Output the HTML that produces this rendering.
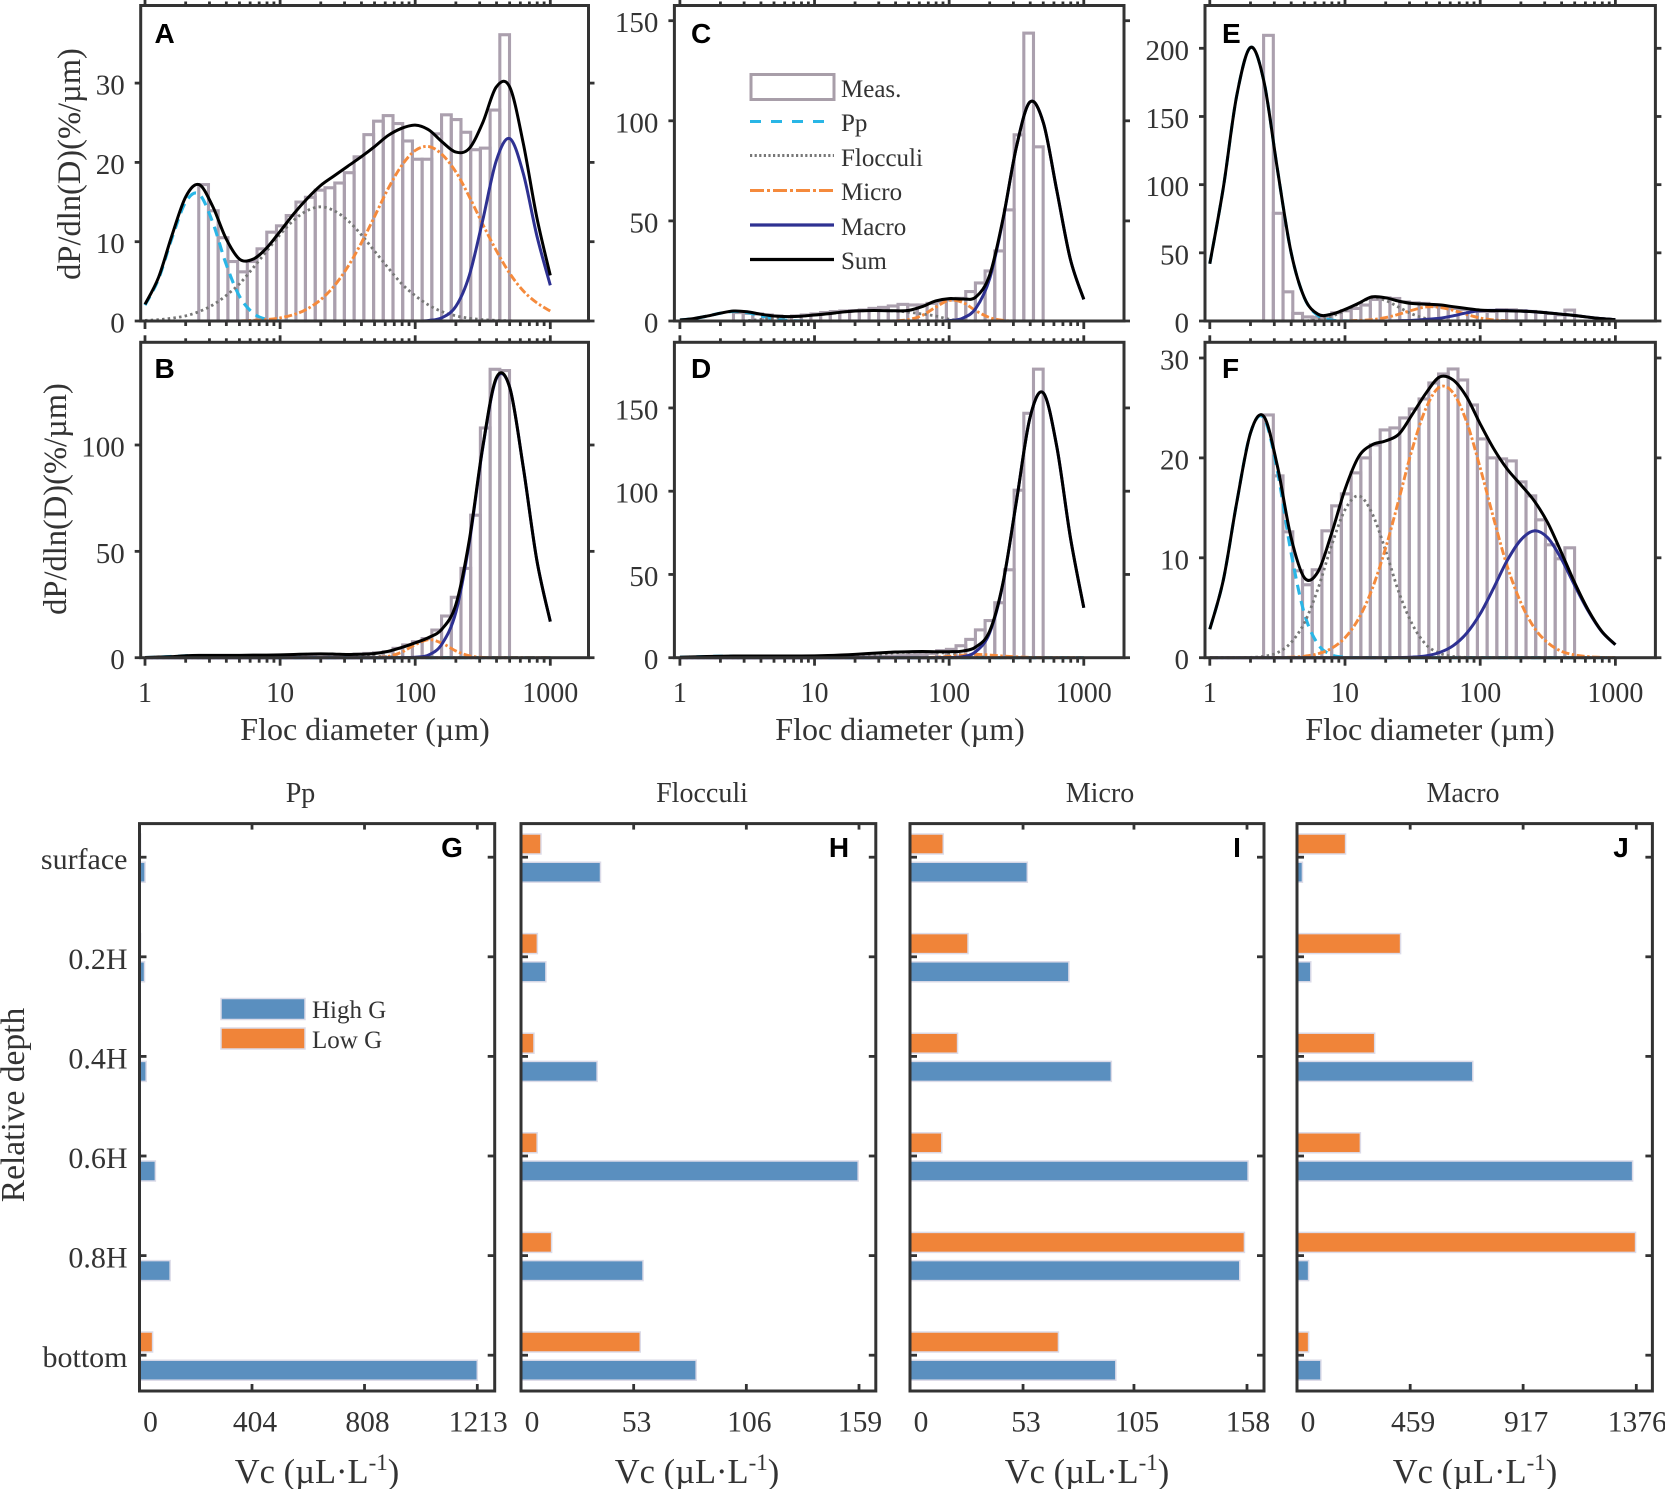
<!DOCTYPE html>
<html>
<head>
<meta charset="utf-8">
<title>Floc size distributions and volume concentrations</title>
<style>
html,body{margin:0;padding:0;background:#fff;}
svg{display:block;}
text{font-family:"Liberation Serif",serif;fill:#333;}
.letter{font-family:"Liberation Sans",sans-serif;font-weight:700;font-size:28px;fill:#000;}
.axt{font-size:32px;}
.vc{font-size:34.5px;}
.ttl{font-size:28px;}
.leg{font-size:25px;}
</style>
</head>
<body>
<svg id="figure" xmlns="http://www.w3.org/2000/svg" width="1665" height="1489" viewBox="0 0 1665 1489">
<rect x="0" y="0" width="1665" height="1489" fill="#fff"/>
<g id="plots"></g>

<text class="axt" x="365" y="740" text-anchor="middle">Floc diameter (µm)</text>
<text class="axt" x="900" y="740" text-anchor="middle">Floc diameter (µm)</text>
<text class="axt" x="1430" y="740" text-anchor="middle">Floc diameter (µm)</text>
<text class="axt" transform="translate(80,164) rotate(-90)" text-anchor="middle" style="font-size:32.5px">dP/dln(D)(%/µm)</text>
<text class="axt" transform="translate(66,499) rotate(-90)" text-anchor="middle" style="font-size:32.5px">dP/dln(D)(%/µm)</text>
<text class="axt" transform="translate(24,1105) rotate(-90)" text-anchor="middle" style="font-size:33.5px">Relative depth</text>

<text class="ttl" x="300.5" y="802" text-anchor="middle">Pp</text>
<text class="ttl" x="702" y="802" text-anchor="middle">Flocculi</text>
<text class="ttl" x="1100" y="802" text-anchor="middle">Micro</text>
<text class="ttl" x="1463" y="802" text-anchor="middle">Macro</text>

<text class="vc" x="317" y="1483" text-anchor="middle">Vc (µL·L<tspan font-size="23" dy="-13">-1</tspan><tspan dy="13">)</tspan></text>
<text class="vc" x="697" y="1483" text-anchor="middle">Vc (µL·L<tspan font-size="23" dy="-13">-1</tspan><tspan dy="13">)</tspan></text>
<text class="vc" x="1087" y="1483" text-anchor="middle">Vc (µL·L<tspan font-size="23" dy="-13">-1</tspan><tspan dy="13">)</tspan></text>
<text class="vc" x="1475" y="1483" text-anchor="middle">Vc (µL·L<tspan font-size="23" dy="-13">-1</tspan><tspan dy="13">)</tspan></text>

<text class="letter" x="154.5" y="43">A</text>
<text class="letter" x="154.5" y="378">B</text>
<text class="letter" x="691" y="43">C</text>
<text class="letter" x="691" y="378">D</text>
<text class="letter" x="1222" y="43">E</text>
<text class="letter" x="1222" y="378">F</text>
<text class="letter" x="452" y="857" text-anchor="middle">G</text>
<text class="letter" x="839" y="857" text-anchor="middle">H</text>
<text class="letter" x="1237" y="857" text-anchor="middle">I</text>
<text class="letter" x="1621" y="857" text-anchor="middle">J</text>

<g>
  <rect x="751" y="74.5" width="83" height="25" fill="#fff" stroke="#a89ea9" stroke-width="3"/>
  <text class="leg" x="841" y="97">Meas.</text>
  <line x1="750" y1="121.5" x2="834" y2="121.5" stroke="#29b6e6" stroke-width="3" stroke-dasharray="11 10"/>
  <text class="leg" x="841" y="131">Pp</text>
  <line x1="750" y1="155.5" x2="834" y2="155.5" stroke="#777" stroke-width="3" stroke-dasharray="2.2 2.4"/>
  <text class="leg" x="841" y="166">Flocculi</text>
  <line x1="750" y1="190.5" x2="834" y2="190.5" stroke="#f58a3c" stroke-width="3" stroke-dasharray="14 3 3 3"/>
  <text class="leg" x="841" y="200">Micro</text>
  <line x1="750" y1="225" x2="834" y2="225" stroke="#2e3192" stroke-width="3.2"/>
  <text class="leg" x="841" y="235">Macro</text>
  <line x1="750" y1="259.5" x2="834" y2="259.5" stroke="#000" stroke-width="3.2"/>
  <text class="leg" x="841" y="269">Sum</text>
</g>
<g>
  <rect x="221" y="998.5" width="84" height="21" fill="#5a8fbf" stroke="#dcdbe8" stroke-width="1.5"/>
  <text class="leg" x="312" y="1018">High G</text>
  <rect x="221" y="1028" width="84" height="21" fill="#f08439" stroke="#dcdbe8" stroke-width="1.5"/>
  <text class="leg" x="312" y="1048">Low G</text>
</g>
</svg>

<script>
/* ---------- shared data ---------- */
var binEdges = [2.5,2.95,3.48,4.11,4.85,5.72,6.75,7.97,9.4,11.1,13.1,15.4,18.2,21.5,25.4,29.9,35.3,41.7,49.2,58,68.5,80.8,95.4,112.5,132.8,156.7,184.9,218.2,257.4,303.8,358.5,423,499];
var curveDiameters = [1,1.26,1.58,2,2.51,3.16,3.98,5.01,6.31,7.94,10,12.6,15.8,20,25.1,31.6,39.8,50.1,63.1,79.4,100,126,158,200,251,316,398,501,631,794,1000];
var xTickValues = [1,10,100,1000];
var xTickLabels = ['1','10','100','1000'];

/* ---------- panel A ---------- */
var aMeas = [17.2,13.9,10.5,7.5,6.2,7.5,9.1,11.2,12,13.3,15,15.6,16.5,16.8,17.4,18.7,20.7,23.5,25.2,25.9,24.9,22.7,20.4,20.4,23.6,26,25.4,23.8,21.6,21.8,26.6,36.1];
var aPp = [2,5.3,10.4,15,16,12.5,7.2,3.1,1,0.2,0.03,0,0,0,0,0,0,0,0,0,0,0,0,0,0,0,0,0,0,0,0];
var aFloc = [0.08,0.17,0.35,0.65,1.18,2,3.2,4.7,6.7,8.8,10.9,12.7,13.9,14.4,13.9,12.7,10.9,8.8,6.7,4.7,3.2,2,1.18,0.65,0.35,0.17,0.08,0.03,0,0,0];
var aMicro = [0,0,0,0,0,0,0,0,0.08,0.18,0.39,0.8,1.5,2.7,4.4,6.8,9.8,13.2,16.7,19.6,21.5,22,21,18.8,15.7,12.2,8.9,6,3.8,2.3,1.25];
var aMacro = [0,0,0,0,0,0,0,0,0,0,0,0,0,0,0,0,0,0,0,0,0,0.07,0.42,1.85,5.7,12.7,20.2,23,18.6,10.8,4.5];
var aSum = [2.1,5.5,10.75,15.65,17.2,14.5,10.4,7.8,7.8,9.2,11.3,13.5,15.4,17.1,18.3,19.5,20.7,22,23.4,24.3,24.7,24.1,22.6,21.3,21.75,25,29.5,29.5,22.4,13.1,5.75];
var aYTicks = [0,10,20,30];

/* ---------- panel B ---------- */
var bMeas = [0.3,0.4,0.5,0.6,0.7,0.8,0.9,1,1.1,1.2,1.3,1.5,1.6,1.5,1.4,1.5,1.7,2,2.3,2.8,4.4,6,7.5,9,13,19.6,28.4,42,67,108,135.6,135];
var bPp = [0.1,0.3,0.6,0.9,1,1,0.8,0.5,0.3,0.1,0,0,0,0,0,0,0,0,0,0,0,0,0,0,0,0,0,0,0,0,0];
var bFloc = [0,0,0,0,0,0,0.2,0.4,0.7,1,1.2,1.4,1.6,1.7,1.6,1.4,1,0.7,0.4,0.2,0.1,0,0,0,0,0,0,0,0,0,0];
var bMicro = [0,0,0,0,0,0,0,0,0,0,0,0,0,0,0,0,0,0.1,0.6,2.6,6.1,8.5,6.8,3.2,0.9,0.14,0,0,0,0,0];
var bMacro = [0,0,0,0,0,0,0,0,0,0,0,0,0,0,0,0,0,0,0,0,0.2,1.3,6.5,21.4,53.8,98.5,131,127,89.5,46,17];
var bSum = [0.1,0.3,0.5,0.9,1.1,1.1,1.1,1.1,1.2,1.2,1.3,1.5,1.7,1.8,1.7,1.5,1.6,2,3,4.8,7,9.5,13.5,25,55,99,131.5,127,89.5,46,17];
var bYTicks = [0,50,100];

/* ---------- panel C ---------- */
var cMeas = [4.2,3.8,3.5,3,2.5,2.2,2.5,3,3.5,4.2,4.7,5,5.2,5.5,6.3,6.8,7.5,8.3,8,8,8.8,9.7,10.5,11.3,14.7,19,25,35,55.5,93,143.8,87];
var cPp = [0.5,1.2,2.4,3.9,4.8,4.2,2.6,1,0.3,0.05,0,0,0,0,0,0,0,0,0,0,0,0,0,0,0,0,0,0,0,0,0];
var cFloc = [0,0,0,0,0,0.2,0.8,1.6,2,2.4,3,3.6,4.4,5,5.2,5.2,5,4.4,3.5,2.5,0.9,0.3,0,0,0,0,0,0,0,0,0];
var cMicro = [0,0,0,0,0,0,0,0,0,0,0,0,0,0,0,0,0.1,0.7,2.8,6.9,10.3,9.3,5.1,1.7,0.35,0,0,0,0,0,0];
var cMacro = [0,0,0,0,0,0,0,0,0,0,0,0,0,0,0,0,0,0,0,0,0.2,1.4,6.4,21.2,50.5,87,109.4,99,65,31,10.8];
var cSum = [0.5,1.2,2.4,3.9,5,4.6,3.4,2.5,2.2,2.4,3,3.6,4.4,5,5.2,5.2,5.1,5.3,7.2,10,11.2,11,12,23,51,87,109.4,99,65,31,10.8];
var cYTicks = [0,50,100,150];

/* ---------- panel D ---------- */
var dMeas = [0.3,0.3,0.4,0.4,0.5,0.5,0.5,0.6,0.6,0.6,0.7,0.7,0.7,0.7,0.8,0.8,1,1.2,1.6,2,2.6,4.2,5,7.2,11,16.7,22.3,33,52.8,100.6,146.8,173.3];
var dPp = [0.3,0.5,0.7,0.9,1,1,0.9,0.7,0.5,0.3,0.1,0,0,0,0,0,0,0,0,0,0,0,0,0,0,0,0,0,0,0,0];
var dFloc = [0,0,0,0,0,0,0,0,0,0,0,0.2,0.5,0.9,1.4,2,3,3.3,3.5,3.2,2.6,1.6,0.7,0.2,0,0,0,0,0,0,0];
var dMicro = [0,0,0,0,0,0,0,0,0,0,0,0,0,0,0,0,0,0,0,0.3,0.8,1.5,2,1.6,1,0.5,0.2,0,0,0,0];
var dMacro = [0,0,0,0,0,0,0,0,0,0,0,0,0,0,0,0,0,0,0,0,0.1,0.6,3.7,15,44.5,94,144,159,126.5,72.6,30];
var dSum = [0.3,0.5,0.7,0.9,1,1,1,1,1,1,1.1,1.3,1.6,2,2.5,3,3.4,3.6,3.7,3.6,3.6,4,6.5,16,45,94,144,159,126.5,72.6,30];
var dYTicks = [0,50,100,150];

/* ---------- panel E ---------- */
var eMeas = [209.5,79,21.4,5.6,3,2.7,3,6,7.5,9.2,11.7,15.8,17,16.5,14,13.3,12.9,10.9,10.4,9.2,8.5,8,7,7,8.3,8.2,7.6,7,6.3,5.5,4.5,8];
var ePp = [42,98,165,200.6,176,111.6,51,16.9,4,0.7,0.1,0,0,0,0,0,0,0,0,0,0,0,0,0,0,0,0,0,0,0,0];
var eFloc = [0,0,0,0,0,0,0,0,1,3.5,7.5,12.5,17,15,10,5,1.8,0.4,0,0,0,0,0,0,0,0,0,0,0,0,0];
var eMicro = [0,0,0,0,0,0,0,0,0,0,0.1,0.4,1,2.5,5,8,10.3,10,7.8,4.8,2.2,0.8,0.2,0,0,0,0,0,0,0,0];
var eMacro = [0,0,0,0,0,0,0,0,0,0,0,0,0,0,0.2,0.5,1.2,2,3.8,6,7.6,7.8,7.7,7.3,6.8,6,5,4,2.8,1.7,1];
var eSum = [42,98,165,200.6,176,111.6,51,17,5,5,8.5,13,17.7,17,14.5,12.8,12.3,11.8,10.5,9.2,8,7.6,7.5,7.2,6.8,6,5,4,2.8,1.7,1];
var eYTicks = [0,50,100,150,200];

/* ---------- panel F ---------- */
var fMeas = [24.3,18.2,12.6,8.7,7.3,8.8,12.7,15.2,16.4,18.5,20,21.3,22.8,23,24,24.9,25.9,27.5,28.4,28.9,27.8,25.3,21.9,20,19.9,19.7,17.6,16.2,13.8,11.3,9.9,11];
var fPp = [2.85,7.8,15.5,22.5,24,18.7,10.6,4.4,1.35,0.3,0.05,0,0,0,0,0,0,0,0,0,0,0,0,0,0,0,0,0,0,0,0];
var fFloc = [0,0,0,0.03,0.14,0.5,1.5,3.5,6.9,11.2,14.8,16.2,14.5,10.7,6.5,3.3,1.3,0.45,0.12,0.03,0,0,0,0,0,0,0,0,0,0,0];
var fMicro = [0,0,0,0,0,0.02,0.05,0.15,0.39,0.93,2,3.9,6.8,11,15.9,21,25,27.1,26.5,23.6,19,13.9,9.2,5.5,3,1.5,0.65,0.27,0.1,0.03,0];
var fMacro = [0,0,0,0,0,0,0,0,0,0,0,0,0,0,0.02,0.06,0.19,0.52,1.2,2.45,4.4,7,9.7,11.8,12.7,12,9.9,7.2,4.65,2.6,1.3];
var fSum = [2.85,7.8,15.5,22.5,24.15,19.2,12.1,8,8.6,12.4,16.85,20.1,21.3,21.7,22.4,24.4,26.5,28.1,27.8,26.1,23.4,20.9,18.9,17.3,15.7,13.5,10.55,7.47,4.75,2.63,1.3];
var fYTicks = [0,10,20,30];

/* ---------- bar panels ---------- */
var depthCategories = ['surface','0.2H','0.4H','0.6H','0.8H','bottom'];
var gHigh = [20,18,24,57,110,1213];
var gLow = [4,4,3,3,2,47];
var gTicks = [0,404,808,1213];
var hHigh = [37.4,11.7,35.8,158.6,57.4,82.4];
var hLow = [9.4,7.7,6.1,7.6,14.4,56.1];
var hTicks = [0,53,106,159];
var iHigh = [55,74.5,94.4,158.5,154.6,96.5];
var iLow = [15.6,27.2,22.3,14.9,156.8,69.6];
var iTicks = [0,53,105,158];
var jHigh = [22,56,713,1361,47,97];
var jLow = [197,420,315,257,1373,47];
var jTicks = [0,459,917,1376];

/* ---------- drawing ---------- */
var NS = 'http://www.w3.org/2000/svg';
var root = document.getElementById('plots');
var AXIS = '#333';

function mk(tag, attrs, parent) {
  var el = document.createElementNS(NS, tag);
  for (var k in attrs) { el.setAttribute(k, attrs[k]); }
  parent.appendChild(el);
  return el;
}

function smoothPath(pts, maxY) {
  var d = 'M' + pts[0][0].toFixed(2) + ' ' + pts[0][1].toFixed(2);
  for (var i = 0; i < pts.length - 1; i++) {
    var p0 = pts[Math.max(i - 1, 0)], p1 = pts[i], p2 = pts[i + 1], p3 = pts[Math.min(i + 2, pts.length - 1)];
    var c1x = p1[0] + (p2[0] - p0[0]) / 6, c1y = Math.min(p1[1] + (p2[1] - p0[1]) / 6, maxY);
    var c2x = p2[0] - (p3[0] - p1[0]) / 6, c2y = Math.min(p2[1] - (p3[1] - p1[1]) / 6, maxY);
    d += 'C' + c1x.toFixed(2) + ' ' + c1y.toFixed(2) + ' ' + c2x.toFixed(2) + ' ' + c2y.toFixed(2) + ' ' + p2[0].toFixed(2) + ' ' + p2[1].toFixed(2);
  }
  return d;
}

function drawDistribution(p) {
  var g = mk('g', {}, root);
  
  
  var xs = function (d) { return p.x1 + Math.log10(d) * p.decade; };
  var ys = function (v) { return p.y0 - v * p.unit; };

  /* measured histogram */
  for (var b = 0; b < p.meas.length; b++) {
    var xl = xs(binEdges[b]), xr = xs(binEdges[b + 1]);
    var bar = mk('rect', { x: xl, y: ys(p.meas[b]), width: xr - xl, height: p.y0 - ys(p.meas[b]), fill: 'none', stroke: '#aba0ae', 'stroke-width': 3.1 }, g);
    
    
  }

  /* fitted curves */
  var styles = [
    { name: 'pp-curve', v: p.pp, c: '#29b6e6', w: 3.1, dash: '10 6.5' },
    { name: 'flocculi-curve', v: p.floc, c: '#777', w: 2.8, dash: '2.5 3.2' },
    { name: 'micro-curve', v: p.micro, c: '#f58a3c', w: 2.9, dash: '8 2.5 2.5 2.5' },
    { name: 'macro-curve', v: p.macro, c: '#2e3192', w: 3, dash: '' },
    { name: 'sum-curve', v: p.sum, c: '#000', w: 3, dash: '' }
  ];
  styles.forEach(function (s) {
    var pts = s.v.map(function (v, i) { return [xs(curveDiameters[i]), ys(v)]; });
    var attrs = { d: smoothPath(pts, p.y0), fill: 'none', stroke: s.c, 'stroke-width': s.w };
    if (s.dash) { attrs['stroke-dasharray'] = s.dash; }
    var line = mk('path', attrs, g);
    
    
  });

  /* frame */
  var frame = mk('rect', { x: p.left, y: p.top, width: p.right - p.left, height: p.y0 - p.top, fill: 'none', stroke: AXIS, 'stroke-width': 3 }, g);
  
  

  /* x ticks on log axis, bottom and top, pointing outward */
  for (var dec = 0; dec < 4; dec++) {
    for (var m = 1; m <= (dec === 3 ? 1 : 9); m++) {
      var tx = xs(Math.pow(10, dec) * m);
      var len = m === 1 ? 8 : 5;
      var tb = mk('line', { x1: tx, x2: tx, y1: p.y0, y2: p.y0 + len, stroke: AXIS, 'stroke-width': 2.8 }, g);
      
      
      var tt = mk('line', { x1: tx, x2: tx, y1: p.top, y2: p.top - len + 1, stroke: AXIS, 'stroke-width': 2.8 }, g);
      
      
    }
  }
  if (p.showX) {
    xTickValues.forEach(function (v, i) {
      var lab = mk('text', { x: xs(v), y: 702, 'text-anchor': 'middle', 'font-size': 28 }, g);
      lab.textContent = xTickLabels[i];
      
      
    });
  }

  /* y ticks */
  p.yTicks.forEach(function (v) {
    var y = ys(v);
    var l = mk('line', { x1: p.left - 6, x2: p.left, y1: y, y2: y, stroke: AXIS, 'stroke-width': 2.8 }, g);
    
    
    var r = mk('line', { x1: p.right, x2: p.right + 6, y1: y, y2: y, stroke: AXIS, 'stroke-width': 2.8 }, g);
    
    
    var lab = mk('text', { x: p.left - 16, y: y + 11.5, 'text-anchor': 'end', 'font-size': 29 }, g);
    lab.textContent = String(v);
    
    
  });
}

function drawBars(p) {
  var g = mk('g', {}, root);
  
  
  var scale = (p.xLast - p.x0) / p.ticks[p.ticks.length - 1];
  var xs = function (v) { return p.x0 + v * scale; };
  var top = 823.6, bottom = 1391;
  var catY = function (i) { return 857.2 + i * 99.6; };

  depthCategories.forEach(function (c, i) {
    var low = mk('rect', { x: p.x0, y: catY(i) - 23.2, width: p.low[i] * scale, height: 20, fill: '#f08439', stroke: '#dcdbe8', 'stroke-width': 1.5 }, g);
    
    
    var high = mk('rect', { x: p.x0, y: catY(i) + 5, width: p.high[i] * scale, height: 20, fill: '#5a8fbf', stroke: '#dcdbe8', 'stroke-width': 1.5 }, g);
    
    
    var tl = mk('line', { x1: p.left, x2: p.left + 7, y1: catY(i), y2: catY(i), stroke: AXIS, 'stroke-width': 2.8 }, g);
    
    
    var tr = mk('line', { x1: p.right - 7, x2: p.right, y1: catY(i), y2: catY(i), stroke: AXIS, 'stroke-width': 2.8 }, g);
    
    
    if (p.showCats) {
      var lab = mk('text', { x: 127.5, y: catY(i) + 12, 'text-anchor': 'end', 'font-size': 30 }, g);
      lab.textContent = c;
      
      
    }
  });

  var frame = mk('rect', { x: p.left, y: top, width: p.right - p.left, height: bottom - top, fill: 'none', stroke: AXIS, 'stroke-width': 3 }, g);
  
  

  p.ticks.forEach(function (v, i) {
    var x = xs(v);
    var t1 = mk('line', { x1: x, x2: x, y1: bottom - 7, y2: bottom, stroke: AXIS, 'stroke-width': 2.8 }, g);
    
    
    var t2 = mk('line', { x1: x, x2: x, y1: top, y2: top + 6, stroke: AXIS, 'stroke-width': 2.8 }, g);
    
    
    var shift = i === 0 ? 11 : (i === p.ticks.length - 1 ? 1 : 3);
    var lab = mk('text', { x: x + shift, y: 1431.5, 'text-anchor': 'middle', 'font-size': 29.5 }, g);
    lab.textContent = String(v);
    
    
  });
}

drawDistribution({ id: 'a', left: 140.7, right: 588.5, top: 5.5, y0: 321, x1: 145, decade: 135.1, unit: 7.93, meas: aMeas, pp: aPp, floc: aFloc, micro: aMicro, macro: aMacro, sum: aSum, yTicks: aYTicks, showX: false });
drawDistribution({ id: 'b', left: 140.7, right: 588.5, top: 342.3, y0: 657.7, x1: 145, decade: 135.1, unit: 2.127, meas: bMeas, pp: bPp, floc: bFloc, micro: bMicro, macro: bMacro, sum: bSum, yTicks: bYTicks, showX: true });
drawDistribution({ id: 'c', left: 674.4, right: 1124, top: 5.5, y0: 321, x1: 679.9, decade: 134.63, unit: 2.002, meas: cMeas, pp: cPp, floc: cFloc, micro: cMicro, macro: cMacro, sum: cSum, yTicks: cYTicks, showX: false });
drawDistribution({ id: 'd', left: 674.4, right: 1124, top: 342.3, y0: 657.7, x1: 679.9, decade: 134.63, unit: 1.665, meas: dMeas, pp: dPp, floc: dFloc, micro: dMicro, macro: dMacro, sum: dSum, yTicks: dYTicks, showX: true });
drawDistribution({ id: 'e', left: 1205, right: 1655.4, top: 5.5, y0: 321, x1: 1209.8, decade: 135.2, unit: 1.3635, meas: eMeas, pp: ePp, floc: eFloc, micro: eMicro, macro: eMacro, sum: eSum, yTicks: eYTicks, showX: false });
drawDistribution({ id: 'f', left: 1205, right: 1655.4, top: 342.3, y0: 657.7, x1: 1209.8, decade: 135.2, unit: 9.99, meas: fMeas, pp: fPp, floc: fFloc, micro: fMicro, macro: fMacro, sum: fSum, yTicks: fYTicks, showX: true });

drawBars({ id: 'g', left: 139.5, right: 494.7, x0: 139.5, xLast: 477.3, ticks: gTicks, high: gHigh, low: gLow, showCats: true });
drawBars({ id: 'h', left: 521, right: 875.8, x0: 521, xLast: 859, ticks: hTicks, high: hHigh, low: hLow, showCats: false });
drawBars({ id: 'i', left: 910, right: 1264, x0: 910, xLast: 1247, ticks: iTicks, high: iHigh, low: iLow, showCats: false });
drawBars({ id: 'j', left: 1297, right: 1652.4, x0: 1297, xLast: 1636.3, ticks: jTicks, high: jHigh, low: jLow, showCats: false });
</script>
</body>
</html>
